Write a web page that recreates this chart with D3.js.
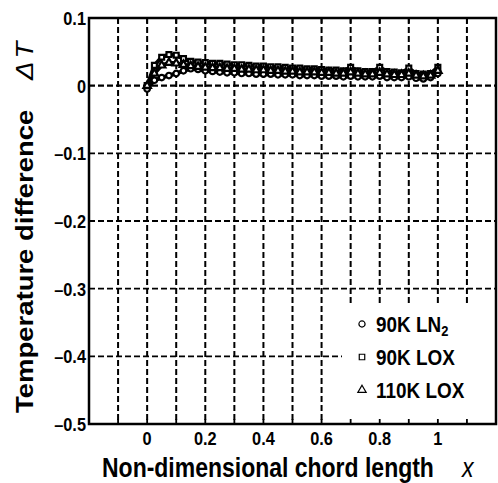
<!DOCTYPE html>
<html><head><meta charset="utf-8">
<script src="https://cdn.jsdelivr.net/npm/d3@7"></script>
<style>body{margin:0;background:#fff}svg{display:block}</style>
</head><body>
<script>
const xValues = [0,0.025,0.05,0.075,0.1,0.125,0.15,0.175,0.2,0.225,0.25,0.275,0.3,0.325,0.35,0.375,0.4,0.425,0.45,0.475,0.5,0.525,0.55,0.575,0.6,0.625,0.65,0.675,0.7,0.725,0.75,0.775,0.8,0.825,0.85,0.875,0.9,0.925,0.95,0.975,1];
const ln2_90K = [-0.005,0.008,0.012,0.015,0.018,0.022,0.025,0.024,0.022,0.021,0.020,0.019,0.019,0.018,0.018,0.017,0.017,0.017,0.016,0.016,0.016,0.015,0.015,0.015,0.014,0.014,0.014,0.013,0.014,0.013,0.013,0.013,0.014,0.012,0.012,0.012,0.013,0.011,0.010,0.012,0.018];
const lox_90K = [0,0.030,0.042,0.046,0.045,0.040,0.036,0.035,0.034,0.033,0.033,0.032,0.031,0.031,0.030,0.029,0.029,0.028,0.028,0.027,0.026,0.026,0.025,0.025,0.024,0.023,0.023,0.022,0.027,0.022,0.021,0.021,0.027,0.021,0.020,0.019,0.026,0.018,0.017,0.018,0.027];
const lox_110K = [0,0.018,0.030,0.034,0.033,0.031,0.029,0.028,0.027,0.026,0.026,0.025,0.025,0.024,0.024,0.023,0.023,0.022,0.022,0.021,0.021,0.020,0.020,0.020,0.019,0.019,0.018,0.018,0.020,0.018,0.017,0.017,0.019,0.017,0.016,0.016,0.018,0.015,0.014,0.015,0.022];
const seriesNames = ["90K LN2","90K LOX","110K LOX"];
const xTickLabels = [0,0.2,0.4,0.6,0.8,1];
const yTickLabels = [0.1,0,-0.1,-0.2,-0.3,-0.4,-0.5];
const xGrid = [-0.1,0,0.1,0.2,0.3,0.4,0.5,0.6,0.7,0.8,0.9,1,1.1];
const yGrid = [0,-0.1,-0.2,-0.3,-0.4];

const W=498,H=483;
const L=89,R=496,T=18,B=424;
const svg=d3.select("body").append("svg").attr("width",W).attr("height",H);
const x=d3.scaleLinear().domain([-0.2,1.2]).range([L,R]);
const y=d3.scaleLinear().domain([-0.5,0.1]).range([B,T]);
const font="'Liberation Sans', Arial, sans-serif";
const SX=0.86; // horizontal squeeze of the scanned lettering

// grid
svg.append("g").selectAll("line").data(xGrid).join("line")
  .attr("x1",d=>x(d)).attr("x2",d=>x(d)).attr("y1",T).attr("y2",B)
  .attr("stroke","#000").attr("stroke-width",2).attr("stroke-dasharray","6,3");
svg.append("g").selectAll("line").data(yGrid).join("line")
  .attr("x1",L).attr("x2",R).attr("y1",d=>y(d)).attr("y2",d=>y(d))
  .attr("stroke","#000").attr("stroke-width",d=>d===0?2.4:1.8).attr("stroke-dasharray","6,3");

// data
const series=[
  {name:seriesNames[0],vals:ln2_90K,shape:"circle"},
  {name:seriesNames[1],vals:lox_90K,shape:"square"},
  {name:seriesNames[2],vals:lox_110K,shape:"triangle"}];
const line=d3.line().x(d=>x(d[0])).y(d=>y(d[1]));
const symMap={circle:d3.symbolCircle,square:d3.symbolSquare,triangle:d3.symbolTriangle};
series.forEach(s=>{
  const pts=xValues.map((v,i)=>[v,s.vals[i]]);
  svg.append("path").datum(pts).attr("d",line).attr("fill","none").attr("stroke","#000").attr("stroke-width",4);
});
series.forEach(s=>{
  const pts=xValues.map((v,i)=>[v,s.vals[i]]);
  svg.append("g").selectAll("path").data(pts).join("path")
    .attr("transform",d=>`translate(${x(d[0])},${y(d[1])})`)
    .attr("d",d3.symbol().type(symMap[s.shape]).size(24))
    .attr("fill","#fff").attr("stroke","#000").attr("stroke-width",2.2);
});

// legend
svg.append("rect").attr("x",342).attr("y",306).attr("width",R-343).attr("height",B-307).attr("fill","#fff");
const leg=svg.append("g");
series.forEach((s,i)=>{
  const cy=324+i*33;
  leg.append("path").attr("transform",`translate(362,${cy})`)
    .attr("d",d3.symbol().type(symMap[s.shape]).size(30))
    .attr("fill","#fff").attr("stroke","#000").attr("stroke-width",1.2);
  const t=leg.append("text").attr("transform",`translate(376,${cy+8}) scale(${SX},1)`)
    .attr("font-family",font).attr("font-size",22).attr("font-weight","bold");
  if(s.name.endsWith("LN2")){
    t.append("tspan").text("90K LN");
    t.append("tspan").attr("font-size",15).attr("dy",4).text("2");
  } else t.text(s.name);
});

// frame
svg.append("rect").attr("x",L).attr("y",T).attr("width",R-L).attr("height",B-T)
  .attr("fill","none").attr("stroke","#000").attr("stroke-width",2.5);
// minor ticks top/bottom
svg.append("g").selectAll("line").data(xGrid).join("line")
  .attr("x1",d=>x(d)).attr("x2",d=>x(d)).attr("y1",B).attr("y2",B-5).attr("stroke","#000").attr("stroke-width",1.8);
svg.append("g").selectAll("line").data(xGrid).join("line")
  .attr("x1",d=>x(d)).attr("x2",d=>x(d)).attr("y1",T).attr("y2",T+5).attr("stroke","#000").attr("stroke-width",1.8);

// tick labels
const fmt=d=>d===0?"0":(d<0?"\u2013"+String(-d):String(d));
svg.append("g").selectAll("text").data(yTickLabels).join("text")
  .attr("transform",d=>`translate(${L-3},${y(d)+7}) scale(${SX},1)`).attr("text-anchor","end")
  .attr("font-family",font).attr("font-size",19).attr("font-weight","bold").text(fmt);
svg.append("g").selectAll("text").data(xTickLabels).join("text")
  .attr("transform",d=>`translate(${x(d)},445) scale(${SX},1)`).attr("text-anchor","middle")
  .attr("font-family",font).attr("font-size",19).attr("font-weight","bold").text(d=>String(d));

// titles
svg.append("text").attr("transform",`translate(102,477) scale(${SX*0.99},1)`)
  .attr("font-family",font).attr("font-size",27).attr("font-weight","bold")
  .text("Non-dimensional chord length");
svg.append("text").attr("transform",`translate(462,477) scale(${SX},1)`)
  .attr("font-family",font).attr("font-size",27).attr("font-style","italic").text("x");
svg.append("text").attr("transform",`translate(33,413) rotate(-90) scale(1,${SX})`)
  .attr("font-family",font).attr("font-size",27.5).attr("font-weight","bold")
  .text("Temperature difference");
svg.append("text").attr("transform",`translate(33,80) rotate(-90) scale(1,${SX})`)
  .attr("font-family",font).attr("font-size",27.5).attr("font-style","italic")
  .attr("letter-spacing",3).text("\u0394T");
</script>
</body></html>
